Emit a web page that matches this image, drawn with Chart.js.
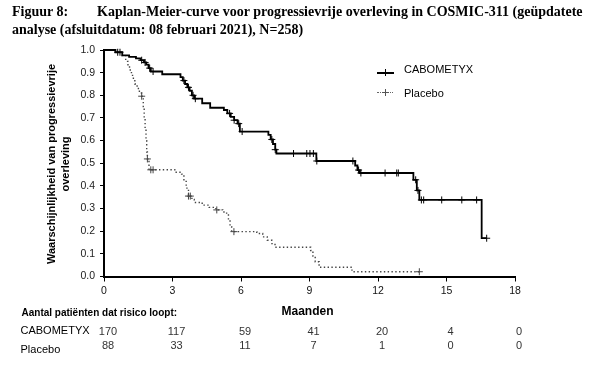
<!DOCTYPE html>
<html>
<head>
<meta charset="utf-8">
<script src="https://cdn.jsdelivr.net/npm/chart.js@4/dist/chart.umd.min.js"></script>
<style>
  html, body { margin:0; padding:0; background:#fff; }
  #wrap { position:relative; width:602px; height:376px; overflow:hidden; background:#fff; }
  #c { position:absolute; left:0; top:0; }
  .t { position:absolute; white-space:nowrap; font-family:"Liberation Sans", Arial, sans-serif; color:#000; }
  #title { position:absolute; left:12px; top:3px; font-family:"Liberation Serif","Times New Roman",serif; font-weight:bold; font-size:14px; line-height:17.5px; white-space:nowrap; color:#000; }
  #ytitle { position:absolute; left:-62px; top:149.5px; width:240px; height:28px; line-height:14px; text-align:center; transform:rotate(-90deg); font-family:"Liberation Sans", Arial, sans-serif; font-weight:bold; font-size:11px; color:#000; }
</style>
</head>
<body>
<div id="wrap">
  <canvas id="c" width="602" height="376"></canvas>
  <div id="title"><span style="display:inline-block;width:85px">Figuur 8:</span>Kaplan-Meier-curve voor progressievrije overleving in COSMIC-311 (geüpdatete<br>analyse (afsluitdatum: 08 februari 2021), N=258)</div>
  <div id="ytitle">Waarschijnlijkheid van progressievrije<br>overleving</div>
</div>
<script>
// ---- Data ----
const xTicks = [0, 3, 6, 9, 12, 15, 18];
const yTicks = [0, 0.1, 0.2, 0.3, 0.4, 0.5, 0.6, 0.7, 0.8, 0.9, 1.0];

const seriesNames = ["CABOMETYX", "Placebo"];

// CABOMETYX Kaplan-Meier steps (time in months, survival probability)
const caboTimes = [0, 0.5, 0.8, 1.1, 1.4, 1.6, 1.75, 1.85, 1.95, 2.05, 2.55, 3.35, 3.45, 3.55, 3.65, 3.75, 3.85, 3.95, 4.3, 4.65, 5.25, 5.4, 5.55, 5.7, 5.85, 5.95, 7.2, 7.3, 7.4, 7.5, 7.55, 9.3, 11.0, 11.1, 11.2, 13.55, 13.7, 13.81, 16.54, 16.76];
const caboSurv  = [1.0, 0.99, 0.976, 0.97, 0.963, 0.955, 0.945, 0.935, 0.92, 0.905, 0.893, 0.88, 0.865, 0.85, 0.835, 0.82, 0.80, 0.785, 0.765, 0.745, 0.735, 0.72, 0.705, 0.69, 0.675, 0.64, 0.625, 0.605, 0.585, 0.56, 0.543, 0.51, 0.49, 0.47, 0.457, 0.427, 0.38, 0.338, 0.169, 0.169];
// CABOMETYX censoring marks
const caboCensorTimes = [0.6, 0.7, 1.65, 1.8, 2.0, 2.15, 3.5, 3.7, 3.9, 4.0, 5.5, 5.7, 5.9, 6.05, 7.35, 7.5, 8.3, 8.88, 9.02, 9.17, 9.32, 10.9, 11.15, 11.25, 12.31, 12.82, 12.89, 13.65, 13.75, 13.9, 14.0, 14.79, 15.67, 16.32, 16.76];
const caboCensorSurv  = [0.99, 0.99, 0.955, 0.945, 0.92, 0.905, 0.865, 0.835, 0.80, 0.785, 0.72, 0.69, 0.675, 0.64, 0.605, 0.56, 0.543, 0.543, 0.543, 0.543, 0.51, 0.51, 0.47, 0.457, 0.457, 0.457, 0.457, 0.427, 0.38, 0.338, 0.338, 0.338, 0.338, 0.338, 0.169];

// Placebo Kaplan-Meier steps
const placeboTimes = [0, 0.5, 0.8, 0.95, 1.05, 1.15, 1.25, 1.35, 1.45, 1.55, 1.65, 1.72, 1.76, 1.8, 1.84, 1.87, 1.9, 1.97, 3.1, 3.4, 3.5, 3.6, 3.7, 3.85, 3.95, 4.3, 4.6, 4.9, 5.2, 5.37, 5.45, 5.52, 5.59, 6.69, 6.95, 7.15, 7.35, 7.49, 9.05, 9.15, 9.25, 9.42, 10.86, 13.81];
const placeboSurv  = [1.0, 0.99, 0.975, 0.95, 0.925, 0.9, 0.875, 0.85, 0.83, 0.81, 0.796, 0.75, 0.70, 0.65, 0.60, 0.55, 0.519, 0.471, 0.46, 0.452, 0.42, 0.39, 0.355, 0.34, 0.327, 0.315, 0.305, 0.294, 0.285, 0.276, 0.25, 0.22, 0.198, 0.19, 0.175, 0.16, 0.145, 0.129, 0.115, 0.09, 0.065, 0.041, 0.021, 0.021];
// Placebo censoring marks
const placeboCensorTimes = [1.65, 1.9, 2.05, 2.15, 3.7, 3.78, 4.94, 5.69, 13.81];
const placeboCensorSurv  = [0.796, 0.519, 0.471, 0.471, 0.355, 0.355, 0.294, 0.198, 0.021];

// Number at risk table
const riskTitle = "Aantal patiënten dat risico loopt:";
const riskTimes = [0, 3, 6, 9, 12, 15, 18];
const riskCabo = [170, 117, 59, 41, 20, 4, 0];
const riskPlacebo = [88, 33, 11, 7, 1, 0, 0];

const xTitle = "Maanden";

// ---- Build chart ----
const pts = (ts, ss) => ts.map((t, i) => ({ x: t, y: ss[i] }));

const chart = new Chart(document.getElementById('c'), {
  type: 'line',
  data: {
    datasets: [
      { label: seriesNames[1], data: pts(placeboTimes, placeboSurv), stepped: 'before',
        borderColor: '#444', borderWidth: 1.4, borderDash: [1.4, 2.4], pointRadius: 0, fill: false, clip: false, order: 3 },
      { label: seriesNames[1] + ' censored', data: pts(placeboCensorTimes, placeboCensorSurv), showLine: false,
        pointStyle: 'cross', pointRadius: 3.5, pointBorderWidth: 1, pointBorderColor: '#444', clip: false, order: 2 },
      { label: seriesNames[0], data: pts(caboTimes, caboSurv), stepped: 'before',
        borderColor: '#000', borderWidth: 1.8, pointRadius: 0, fill: false, clip: false, order: 1 },
      { label: seriesNames[0] + ' censored', data: pts(caboCensorTimes, caboCensorSurv), showLine: false,
        pointStyle: 'cross', pointRadius: 3.5, pointBorderWidth: 1, pointBorderColor: '#000', clip: false, order: 0 }
    ]
  },
  options: {
    responsive: false,
    devicePixelRatio: 1,
    animation: false,
    events: [],
    layout: { padding: { left: 0, top: 50, right: 87, bottom: 0 } },
    plugins: { legend: { display: false }, tooltip: { enabled: false }, title: { display: false } },
    scales: {
      x: {
        type: 'linear', min: 0, max: 18,
        afterBuildTicks: s => { s.ticks = xTicks.map(v => ({ value: v })); },
        afterFit: s => { s.height = 99.5; },
        border: { color: '#000', width: 2 },
        grid: { drawOnChartArea: false, color: '#000', lineWidth: 1, tickLength: 5 },
        ticks: { color: '#111', padding: 3, font: { family: 'Liberation Sans, Arial, sans-serif', size: 10.5 }, maxRotation: 0 }
      },
      y: {
        type: 'linear', min: 0, max: 1,
        afterBuildTicks: s => { s.ticks = yTicks.map(v => ({ value: v })); },
        afterFit: s => { s.width = 104; },
        border: { color: '#000', width: 2 },
        grid: { drawOnChartArea: false, color: '#000', lineWidth: 1, tickLength: 4 },
        ticks: { color: '#222', padding: 5, font: { family: 'Liberation Sans, Arial, sans-serif', size: 10.5 },
                 callback: v => Number(v).toFixed(1) }
      }
    }
  }
});

// ---- Text overlays (legend, axis title, risk table) ----
const wrap = document.getElementById('wrap');
function place(text, x, cy, opts) {
  opts = opts || {};
  const el = document.createElement('div');
  el.className = 't';
  el.textContent = text;
  const size = opts.size || 11;
  const lh = size + 4;
  el.style.fontSize = size + 'px';
  el.style.lineHeight = lh + 'px';
  el.style.top = (cy - lh / 2) + 'px';
  el.style.left = x + 'px';
  if (opts.bold) el.style.fontWeight = 'bold';
  if (opts.color) el.style.color = opts.color;
  if (opts.center) el.style.transform = 'translateX(-50%)';
  wrap.appendChild(el);
  return el;
}
function line(x1, x2, y, style) {
  const el = document.createElement('div');
  el.style.position = 'absolute';
  el.style.left = x1 + 'px';
  el.style.width = (x2 - x1) + 'px';
  el.style.top = y + 'px';
  el.style.height = '0px';
  el.style.borderTop = style;
  wrap.appendChild(el);
}
function cross(cx, cy, color) {
  const h = document.createElement('div');
  h.style.cssText = `position:absolute;left:${cx-3.5}px;top:${cy-0.5}px;width:7px;height:1px;background:${color}`;
  const v = document.createElement('div');
  v.style.cssText = `position:absolute;left:${cx-0.5}px;top:${cy-3.5}px;width:1px;height:7px;background:${color}`;
  wrap.appendChild(h); wrap.appendChild(v);
}

// Legend
line(377, 394, 71.5, '2px solid #000');
cross(385.5, 72.5, '#000');
place(seriesNames[0], 404, 69.5, { size: 11 });
line(377, 393, 92, '1.5px dotted #666');
cross(385, 92.5, '#555');
place(seriesNames[1], 404, 93.5, { size: 11 });

// X axis title
place(xTitle, 307.5, 310.7, { size: 12, bold: true, center: true });

// Risk table
place(riskTitle, 21.5, 313.3, { size: 10, bold: true });
place(seriesNames[0], 20.5, 330.7, { size: 11 });
place(seriesNames[1], 20.5, 349.5, { size: 11 });
const xs = chart.scales.x;
riskTimes.forEach((t, i) => {
  const px = xs.getPixelForValue(t) + 4;
  place(String(riskCabo[i]), px, 331.5, { size: 11, center: true, color: '#333' });
  place(String(riskPlacebo[i]), px, 345, { size: 11, center: true, color: '#333' });
});
</script>
</body>
</html>
